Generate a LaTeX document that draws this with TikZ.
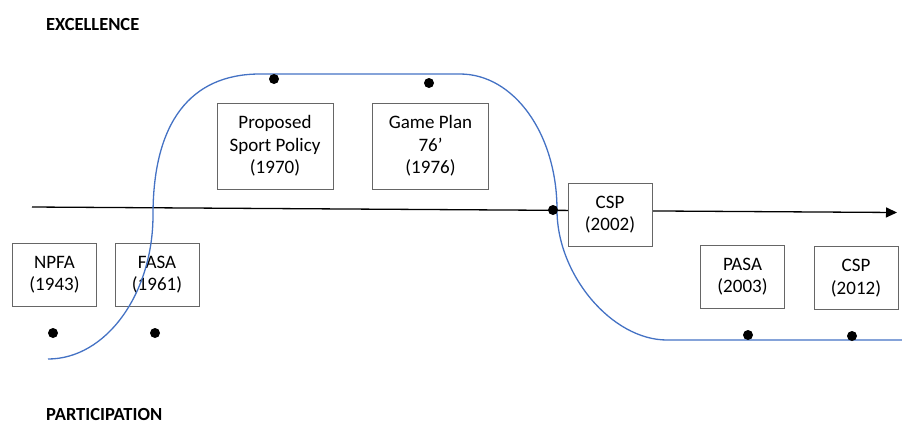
\documentclass[tikz,border=0pt]{standalone}
\usepackage{fontspec}
\setmainfont{Carlito}
\usepackage{xcolor}
\usetikzlibrary{arrows.meta}

\definecolor{trendblue}{HTML}{4472C4}

\begin{document}
\begin{tikzpicture}[x=1pt, y=-1pt,
  event/.style={rectangle, draw=black!60, line width=0.9pt, fill=white,
    minimum width=84pt, minimum height=63pt, align=center, inner sep=2pt,
    font=\fontsize{19}{22.5}\selectfont},
  wide/.style={minimum width=116pt, minimum height=86pt},
  milestone/.style={circle, fill=black, inner sep=0pt, minimum size=10pt},
  heading/.style={anchor=west, inner sep=0pt, font=\fontsize{18.5}{22}\selectfont\bfseries},
  arr/.style={-{Triangle[length=11pt, width=10pt]}, line width=1.3pt},
  trend/.style={draw=trendblue, line width=1.3pt},
]
  \useasboundingbox (0,0) rectangle (902,424);

  % time axis
  \coordinate (axstart) at (32,207);
  \coordinate (axend)   at (897,212.5);
  \draw[arr] (axstart) -- (axend);

  \node[heading] (excel) at (46,24)  {EXCELLENCE};
  \node[heading] (partic) at (46,414) {PARTICIPATION};

  \node[event] (npfa)  at (54.5,274.5) {NPFA\\(1943)};
  \node[event] (fasa)  at (157,274.5)  {FASA\\(1961)};
  \node[event, wide] (policy) at (275,146)   {Proposed\\Sport Policy\\(1970)};
  \node[event, wide] (game)   at (430.5,146) {Game Plan\\76’\\(1976)};
  \node[event] (csp02) at (610,214.5)  {CSP\\(2002)};
  \node[event] (pasa)  at (742.5,276.5) {PASA\\(2003)};
  \node[event] (csp12) at (856,278)    {CSP\\(2012)};

  % excellence / participation curve
  \draw[trend] (48,359) .. controls (106,359) and (153,294) .. (153,215)
    .. controls (153,123) and (190,74) .. (260,74) -- (460,74)
    .. controls (514,74) and (557,134) .. (557,210)
    .. controls (557,275) and (612,340) .. (667,340) -- (902,340);

  \node[milestone] (npfadot)   at (53,333)  {};
  \node[milestone] (fasadot)   at (155,333) {};
  \node[milestone] (policydot) at (274,79)  {};
  \node[milestone] (gamedot)   at (429,83)  {};
  \node[milestone] (cspdot)    at (553,210) {};
  \node[milestone] (pasadot)   at (748,335) {};
  \node[milestone] (csp12dot)  at (852,336) {};
\end{tikzpicture}
\end{document}
